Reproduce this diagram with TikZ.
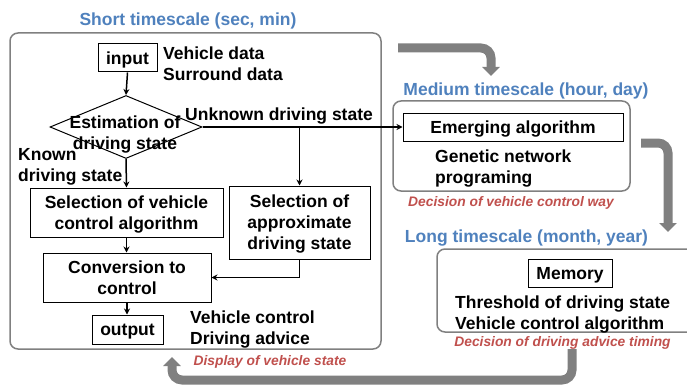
\documentclass[tikz,border=0pt]{standalone}
\usepackage{fontspec}
\setmainfont{Liberation Sans}
\usepackage{tikz}
\usetikzlibrary{shapes.geometric,arrows.meta}
\definecolor{scaleblue}{RGB}{79,129,189}
\definecolor{noteRed}{RGB}{192,80,77}
\definecolor{panelgray}{RGB}{128,128,128}
\tikzset{
	lbl/.style={inner sep=0pt,text depth=0pt,align=left,font=\fontsize{17.5}{21}\selectfont\bfseries},
	box/.style={draw,line width=1pt,inner sep=0pt,text depth=0pt,align=center,font=\fontsize{17.5}{21}\selectfont\bfseries},
	panel/.style={draw=panelgray,line width=1.5pt,rounded corners=8pt},
	scaletitle/.style={lbl,text=scaleblue},
	note/.style={inner sep=0pt,text=noteRed,font=\fontsize{13.8}{16}\selectfont\bfseries\itshape},
	arr/.style={line width=1.5pt,-{Stealth[length=6pt,width=6pt]}},
	bigarr/.style={line width=9pt,panelgray,rounded corners=10pt,-{Triangle[length=9pt,width=17pt]}}
}

\begin{document}
\begin{tikzpicture}[x=1pt,y=-1pt]
	\clip (0,0) rectangle (687,385);
	% three time scales
	\draw[panel] (10,33) rectangle (381,349);
	\draw[panel] (393,101) rectangle (630,191);
	\draw[panel] (437,249) rectangle (720,332);
	\node[scaletitle] (tshort) at (188,19) {Short timescale (sec, min)};
	\node[scaletitle] (tmed) at (526,89) {Medium timescale (hour, day)};
	\node[scaletitle] (tlong) at (526.5,236) {Long timescale (month, year)};

	% short timescale flow
	\node[box,minimum width=59,minimum height=28] (input) at (127.5,58) {input};
	\node[lbl,anchor=west] (indata) at (163,64) {Vehicle data\\Surround data};
	\node[diamond,draw,line width=1pt,inner sep=0pt,minimum width=152,minimum height=63] (est) at (126,127) {};
	\node[lbl,align=center] (esttxt) at (125,133) {Estimation of\\driving state};
	\node[lbl,anchor=west] (unknown) at (185,114) {Unknown driving state};
	\node[lbl,anchor=west] (known) at (18,165) {Known\\driving state};
	\node[box,minimum width=193,minimum height=49] (selveh) at (126.5,212.5) {Selection of vehicle\\control algorithm};
	\node[box,minimum width=141,minimum height=73] (selapp) at (299.5,222.5) {Selection of\\approximate\\driving state};
	\node[box,minimum width=168,minimum height=49] (conv) at (127,277.5) {Conversion to\\control};
	\node[box,minimum width=71,minimum height=29] (output) at (127.5,329.5) {output};
	\node[lbl,anchor=west] (outdata) at (190,328) {Vehicle control\\Driving advice};
	\node[note] (display) at (270,362) {Display of vehicle state};

	% medium timescale
	\node[box,minimum width=220,minimum height=28] (emerge) at (513,127) {Emerging algorithm};
	\node[lbl,anchor=west] (gnp) at (435,166.5) {Genetic network\\programing};
	\node[note] (decway) at (511,203) {Decision of vehicle control way};

	% long timescale
	\node[box,minimum width=84,minimum height=28] (memory) at (570,273) {Memory};
	\node[lbl,anchor=west] (memtxt) at (455,312.5) {Threshold of driving state\\Vehicle control algorithm};
	\node[note] (dectime) at (562.5,343) {Decision of driving advice timing};

	% connectors
	\draw[arr] (input.south) -- (est.north);
	\draw[arr] (est.south) -- (selveh.north);
	\draw[arr] (est.east) -- (emerge.west);
	\draw[arr] (selapp.north |- est.east) -- (selapp.north);
	\draw[arr] (selveh.south) -- (selveh.south |- conv.north);
	\draw[arr] (selapp.south) |- (conv.east);
	\draw[arr] (conv.south) -- (conv.south |- output.north);

	% feedback between time scales
	\coordinate (a1) at (398,48);
	\coordinate (a1end) at (491,76);
	\coordinate (a2) at (641,143);
	\coordinate (a2end) at (668,232);
	\coordinate (a3) at (572,349);
	\coordinate (a3end) at (172,357);
	\draw[bigarr] (a1) -| (a1end);
	\draw[bigarr] (a2) -| (a2end);
	\draw[bigarr] (a3) -- (572,380) -| (a3end);
\end{tikzpicture}
\end{document}
